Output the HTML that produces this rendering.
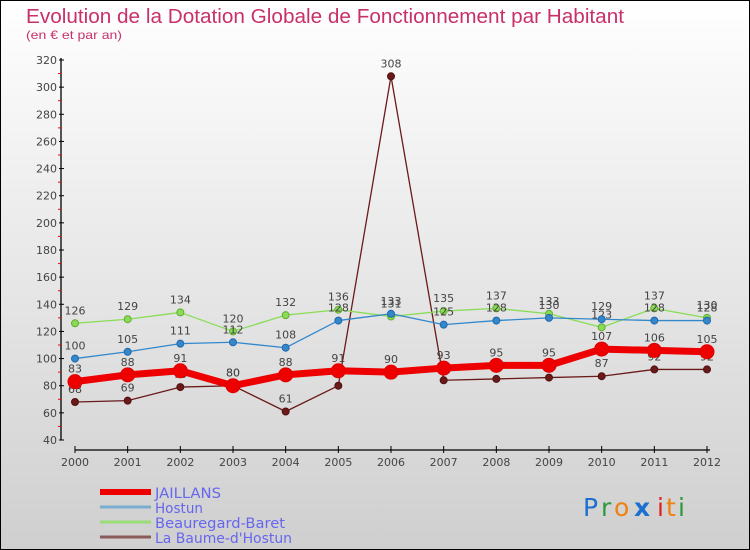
<!DOCTYPE html>
<html><head><meta charset="utf-8"><style>
body{margin:0;padding:0}
svg{display:block;font-family:"DejaVu Sans","Liberation Sans",sans-serif}
</style></head><body>
<svg width="750" height="550" viewBox="0 0 750 550">
<defs><linearGradient id="bg" x1="0" y1="0" x2="0" y2="1"><stop offset="0" stop-color="#ffffff"/><stop offset="1" stop-color="#cfcfcf"/></linearGradient></defs>
<rect x="0.5" y="0.5" width="749" height="549" fill="url(#bg)" stroke="#000"/>
<text x="26" y="23" font-size="20" fill="#c8306a" font-family="'Liberation Sans',sans-serif" textLength="598" lengthAdjust="spacingAndGlyphs">Evolution de la Dotation Globale de Fonctionnement par Habitant</text>
<text x="26" y="39" font-size="12" fill="#c8306a" font-family="'Liberation Sans',sans-serif" textLength="96" lengthAdjust="spacingAndGlyphs">(en € et par an)</text>
<g id="axes"></g>
<g id="series"></g>
<g id="legend"></g>
<g font-size="25" font-family="'DejaVu Sans',sans-serif">
<text x="583" y="516" fill="#1a6fd0">P</text><text x="601" y="516" fill="#2a9a3a">r</text><text x="614" y="516" fill="#f08010">o</text><text x="634" y="516" fill="#1a6fd0" font-weight="bold">x</text><text x="657" y="516" fill="#e02020">i</text><text x="666" y="516" fill="#f08010">t</text><text x="678" y="516" fill="#2a9a3a">i</text>
</g>
</svg>
<script>
const years=[2000,2001,2002,2003,2004,2005,2006,2007,2008,2009,2010,2011,2012];
const jaillans=[83,88,91,80,88,91,90,93,95,95,107,106,105];
const hostun=[100,105,111,112,108,128,133,125,128,130,129,128,128];
const beauregard=[126,129,134,120,132,136,131,135,137,133,123,137,130];
const baume=[68,69,79,80,61,80,308,84,85,86,87,92,92];
const yTicks=[40,60,80,100,120,140,160,180,200,220,240,260,280,300,320];

const NS="http://www.w3.org/2000/svg";
function X(i){return 75+i*(707-75)/(years.length-1);}
function Y(v){return 440-(v-40)*(380/280);}
function mk(tag,attrs,parent,txt){const e=document.createElementNS(NS,tag);for(const k in attrs)e.setAttribute(k,attrs[k]);if(txt!==undefined)e.textContent=txt;parent.appendChild(e);return e;}
const axes=document.getElementById('axes');
let e=mk('line',{x1:61,y1:58,x2:61,y2:440,stroke:'#000','stroke-width':1.3},axes);


e=mk('line',{x1:75,y1:450,x2:710,y2:450,stroke:'#000','stroke-width':1.3},axes);


yTicks.forEach((v,i)=>{
  mk('line',{x1:59,y1:Y(v),x2:64,y2:Y(v),stroke:'#000'},axes);
  e=mk('text',{x:57,y:Y(v)+4,'text-anchor':'end','font-size':11,fill:'#444'},axes,v);
  
  
  if(i<yTicks.length-1) mk('line',{x1:58,y1:Y(v+10),x2:61,y2:Y(v+10),stroke:'#f00'},axes);
});
years.forEach((y,i)=>{
  mk('line',{x1:X(i),y1:446,x2:X(i),y2:453,stroke:'#000'},axes);
  e=mk('text',{x:X(i),y:466,'text-anchor':'middle','font-size':11,fill:'#444'},axes,y);
  
  
});
const S=document.getElementById('series');
function series(data,color,w,r,name,dark){
  const g=mk('g',{},S);
  
  
  const l=mk('polyline',{points:data.map((v,i)=>X(i)+','+Y(v)).join(' '),fill:'none',stroke:color,'stroke-width':w,'stroke-linejoin':'round'},g);
  
  
  data.forEach((v,i)=>{
    const c=mk('circle',{cx:X(i),cy:Y(v),r:r,fill:color,stroke:dark,'stroke-width':1},g);
    
    
    const t=mk('text',{x:X(i),y:Y(v)-9,'text-anchor':'middle','font-size':11,fill:'#444'},g,v);
    
    
  });
}
series(baume,'#6b1a1a',1.3,3.5,'la-baume-dhostun','#501010');
series(beauregard,'#88dd55',1.3,3.5,'beauregard-baret','#66aa33');
series(hostun,'#3388cc',1.3,3.5,'hostun','#2266aa');
series(jaillans,'#ee0000',7,7,'jaillans','#dd0000');
const L=document.getElementById('legend');
const items=[['JAILLANS','#ee0000',6,66],['Hostun','#7aaed0',3,48],['Beauregard-Baret','#99dd77',3,130],['La Baume-d\'Hostun','#8a5a5a',3,137]];
items.forEach((it,i)=>{
  const y=492+i*15;
  const g=mk('g',{},L);
  
  
  mk('line',{x1:100,y1:y,x2:151,y2:y,stroke:it[1],'stroke-width':it[2]},g);
  mk('text',{x:155,y:y+6,'font-size':14,fill:'#6666ee',textLength:it[3],lengthAdjust:'spacingAndGlyphs'},g,it[0]);
});
</script>
</body></html>
